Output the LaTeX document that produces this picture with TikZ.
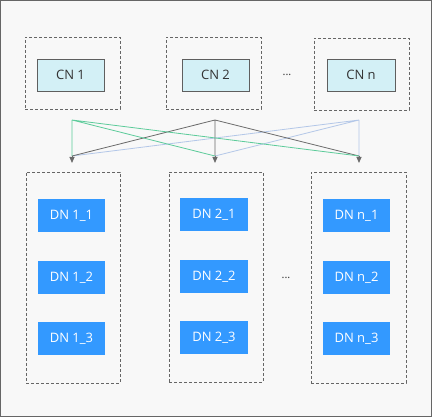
\documentclass[tikz,border=0pt]{standalone}
\usepackage{fontspec}
\setmainfont{Open Sans}
\usetikzlibrary{arrows.meta}
\definecolor{bgc}{HTML}{F8F8F8}
\definecolor{framec}{HTML}{666666}
\definecolor{cnfill}{HTML}{D3F0F6}
\definecolor{cnline}{HTML}{5F5F5F}
\definecolor{dnfill}{HTML}{3399FF}
\definecolor{greenl}{HTML}{5CCB9A}
\definecolor{bluel}{HTML}{B3C7E8}
\definecolor{grayl}{HTML}{6A6A6A}
\tikzset{
  grp/.style={draw=framec, dashed, dash pattern=on 3pt off 2pt, line width=0.8pt, inner sep=0pt},
  cnbox/.style={draw=cnline, fill=cnfill, line width=0.8pt, minimum width=67pt, minimum height=32pt, inner sep=0pt, font=\fontsize{13}{15}\selectfont, text=black!80},
  dnbox/.style={fill=dnfill, minimum width=67pt, minimum height=33pt, inner sep=0pt, font=\fontsize{13}{15}\selectfont, text=white},
  dots/.style={font=\fontsize{11}{13}\selectfont, text=black!80, inner sep=0pt},
  lnk/.style={line width=0.8pt},
  arr/.style={draw=grayl, line width=0.8pt, -{Triangle[length=6pt,width=5pt]}}
}
\begin{document}
\begin{tikzpicture}[x=1pt,y=-1pt]
\useasboundingbox (0,0) rectangle (432,417);
\draw[draw=framec, fill=bgc, line width=1pt] (0.5,0.5) rectangle (431.5,416.5);
% CN groups
\node[grp, minimum width=95pt, minimum height=72pt] (cg1) at (72.5,73) {};
\node[grp, minimum width=95pt, minimum height=72pt] (cg2) at (213.5,73) {};
\node[grp, minimum width=95pt, minimum height=72pt] (cg3) at (361.5,74) {};
\node[cnbox] (cn1) at (70.5,75) {CN 1};
\node[cnbox] (cn2) at (215.5,75) {CN 2};
\node[cnbox, minimum width=68pt] (cn3) at (361,75) {CN n};
\node[dots] (d1) at (287,75) {...};
% DN groups
\node[grp, minimum width=94pt, minimum height=211pt] (dg1) at (73,277.5) {};
\node[grp, minimum width=94pt, minimum height=210pt] (dg2) at (216,277) {};
\node[grp, minimum width=95pt, minimum height=211pt] (dg3) at (358.5,277.5) {};
\node[dnbox] (dn11) at (71.5,215.5) {DN 1\_1};
\node[dnbox] (dn12) at (71.5,277.5) {DN 1\_2};
\node[dnbox] (dn13) at (71.5,338.5) {DN 1\_3};
\node[dnbox, minimum width=68pt] (dn21) at (214,214.5) {DN 2\_1};
\node[dnbox, minimum width=68pt] (dn22) at (214,276.5) {DN 2\_2};
\node[dnbox, minimum width=68pt] (dn23) at (214,338) {DN 2\_3};
\node[dnbox] (dn31) at (356.5,215.5) {DN n\_1};
\node[dnbox] (dn32) at (356.5,277.5) {DN n\_2};
\node[dnbox] (dn33) at (356.5,338.5) {DN n\_3};
\node[dots] (d2) at (286,278) {...};
% connectors
\coordinate (t1) at (72,120);
\coordinate (t2) at (215,120);
\coordinate (t3) at (359,120);
\coordinate (b1) at (72,156);
\coordinate (b2) at (215,156);
\coordinate (b3) at (359,156);
\coordinate (a1) at (72,163);
\coordinate (a2) at (215,163);
\coordinate (a3) at (359,163);
\draw[lnk, bluel] (t3) -- (b1) (t3) -- (b2) (t3) -- (b3);
\draw[lnk, grayl] (t2) -- (b1) (t2) -- (b2) (t2) -- (b3);
\draw[lnk, greenl] (t1) -- (b1) (t1) -- (b2) (t1) -- (b3);
\draw[arr] (b1) -- (a1);
\draw[arr] (b2) -- (a2);
\draw[arr] (b3) -- (a3);
\end{tikzpicture}
\end{document}
